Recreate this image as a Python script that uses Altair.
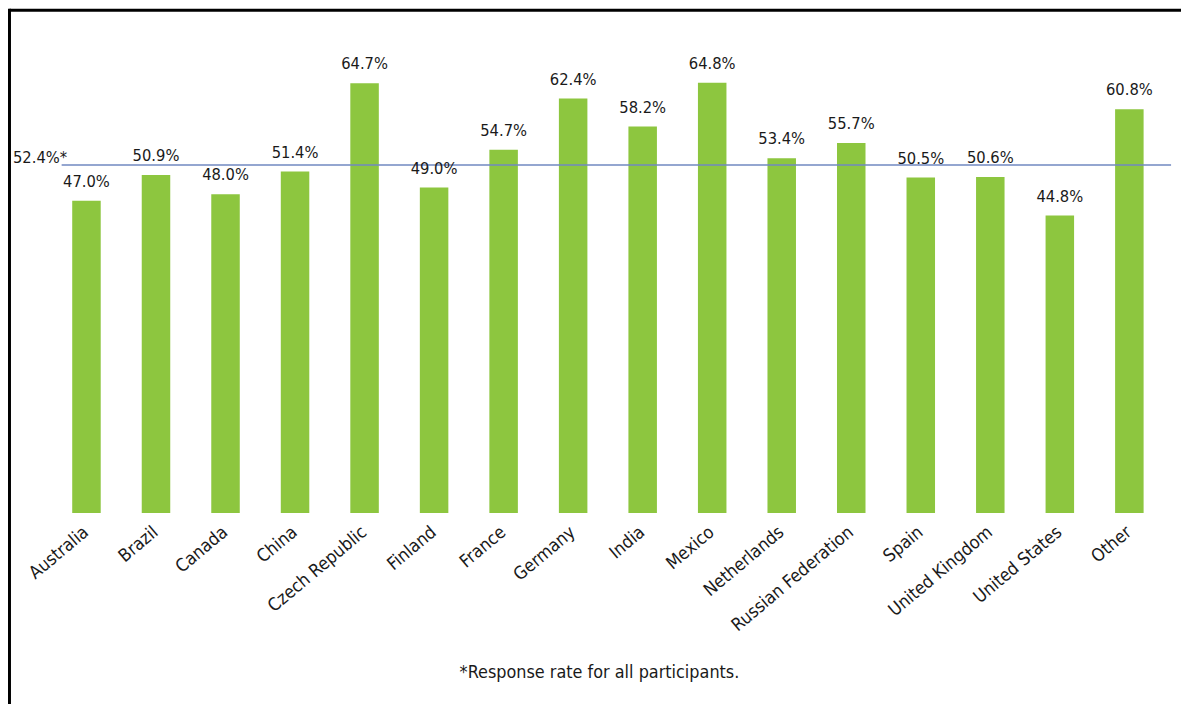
import altair as alt
import pandas as pd

countries = ["Australia", "Brazil", "Canada", "China", "Czech Republic", "Finland",
             "France", "Germany", "India", "Mexico", "Netherlands",
             "Russian Federation", "Spain", "United Kingdom", "United States", "Other"]
rates = [47.0, 50.9, 48.0, 51.4, 64.7, 49.0, 54.7, 62.4, 58.2, 64.8, 53.4, 55.7,
         50.5, 50.6, 44.8, 60.8]
rate_labels = ["47.0%", "50.9%", "48.0%", "51.4%", "64.7%", "49.0%", "54.7%", "62.4%",
               "58.2%", "64.8%", "53.4%", "55.7%", "50.5%", "50.6%", "44.8%", "60.8%"]
overall_rate = [52.4]
overall_label = ["52.4%*"]
footnote = ["*Response rate for all participants."]

df = pd.DataFrame({"country": countries, "rate": rates, "label": rate_labels})
ref_df = pd.DataFrame({"v": overall_rate, "t": overall_label})
note_df = pd.DataFrame({"t": footnote})

FONT = "DejaVu Sans Condensed"
TXT = "#1a1a1a"

yscale = alt.Scale(domain=[0, 70])
x = alt.X("country:N", sort=countries, title=None,
          scale=alt.Scale(paddingInner=0.59, paddingOuter=0.295),
          axis=alt.Axis(labelAngle=-40, labelFontSize=18, labelFont=FONT, labelColor=TXT,
                        domain=False, ticks=False, labelPadding=17,
                        labelAlign="right", labelBaseline="middle"))
y = alt.Y("rate:Q", scale=yscale, axis=None)

base = alt.Chart(df)
bars = base.mark_bar(color="#8DC63F").encode(x=x, y=y)
labels = base.mark_text(font=FONT, fontSize=16.5, dy=-14, baseline="alphabetic",
                        color=TXT).encode(x=x, y=y, text="label:N")

ref = alt.Chart(ref_df)
line = ref.mark_rule(color="#7189C0", strokeWidth=1.5).encode(
    y=alt.Y("v:Q", scale=yscale, axis=None), x=alt.value(10), x2=alt.value(1127))
ref_text = ref.mark_text(font=FONT, fontSize=16.5, align="left", baseline="alphabetic",
                         dy=-2, color=TXT).encode(
    y=alt.Y("v:Q", scale=yscale, axis=None), x=alt.value(-39), text="t:N")

note = alt.Chart(note_df).mark_text(font=FONT, fontSize=18, align="center",
                                    baseline="alphabetic", color=TXT).encode(
    x=alt.value(551.5), y=alt.value(634), text="t:N")

frame_df = pd.DataFrame({"a": [0]})
frame_top = alt.Chart(frame_df).mark_rule(color="black", strokeWidth=3).encode(
    x=alt.value(-42.5), x2=alt.value(1140), y=alt.value(-38))
frame_left = alt.Chart(frame_df).mark_rule(color="black", strokeWidth=3).encode(
    x=alt.value(-42.5), y=alt.value(-39.5), y2=alt.value(700))

chart = alt.layer(frame_top, frame_left, bars, line, labels, ref_text, note).properties(
    width=1120, height=468,
    padding={"left": 44, "top": 38, "right": 17, "bottom": 190},
    autosize=alt.AutoSizeParams(type="none"),
).configure(background="white").configure_view(strokeWidth=0)

chart.save("out.html", embed_options={"renderer": "svg", "actions": False})
